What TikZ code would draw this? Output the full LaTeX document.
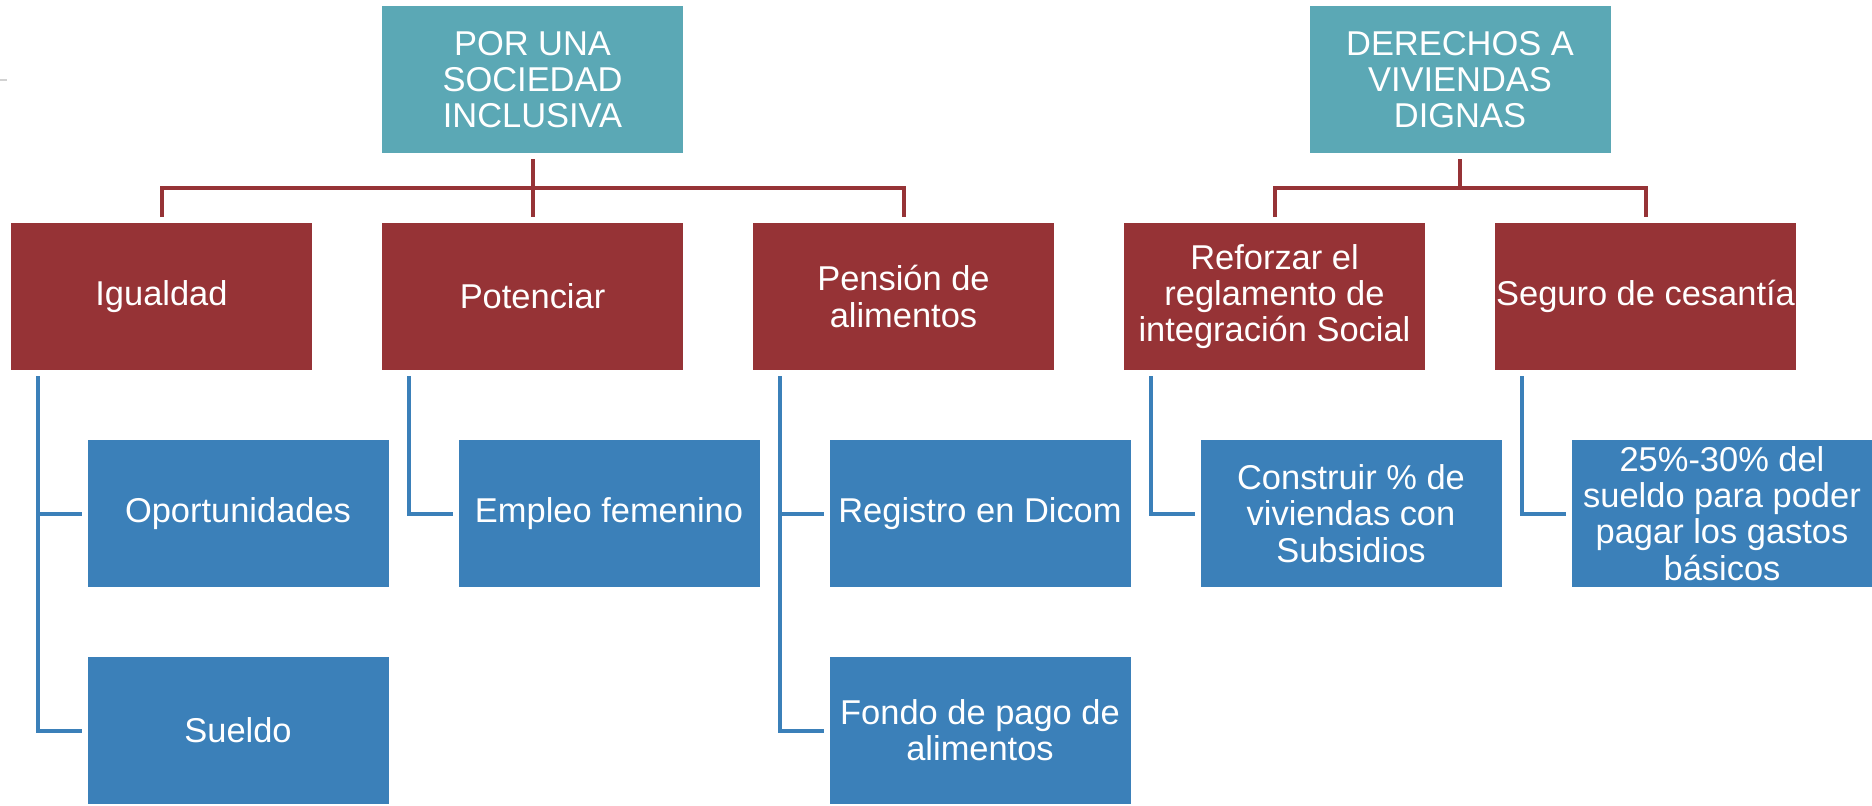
\documentclass[tikz,border=0pt]{standalone}
\usepackage{fontspec}
\setmainfont{Liberation Sans}
\usetikzlibrary{positioning}
\definecolor{tealbox}{HTML}{5BA8B5}
\definecolor{redbox}{HTML}{963336}
\definecolor{bluebox}{HTML}{3B80B9}

\begin{document}
\begin{tikzpicture}[node distance=1.4cm,line width=0.08cm]
\tikzstyle{every node}=[text=white,align=center,inner sep=0pt,outer sep=0pt,
    minimum width=6.02cm,minimum height=2.94cm,
    font=\fontsize{19.6}{20.6}\selectfont]
\tikzstyle{topbox}=[fill=tealbox]
\tikzstyle{midbox}=[fill=redbox]
\tikzstyle{leafbox}=[fill=bluebox]
\tikzstyle{redlink}=[draw=redbox,shorten <=0.12cm,shorten >=0.12cm]
\tikzstyle{bluelink}=[draw=bluebox,shorten <=0.12cm,shorten >=0.12cm]

\useasboundingbox (0,0) rectangle (37.44,-16.10);
\draw[gray!35,line width=0.04cm] (0,-1.6) -- (0.14,-1.6);

% second row
\node [midbox] at (3.23,-5.93) (1) {Igualdad};
\node [midbox] [right=of 1] (2) {Potenciar};
\node [midbox] [right=of 2] (3) {Pensión de\\alimentos};
\node [midbox] [right=of 3] (4) {Reforzar el\\reglamento de\\integración Social};
\node [midbox] [right=of 4] (5) {Seguro de cesantía};

% heads
\node [topbox] [above=of 2] (0) {POR UNA\\SOCIEDAD\\INCLUSIVA};
\node [topbox] [above=of 4,xshift=3.71cm] (6) {DERECHOS A\\VIVIENDAS\\DIGNAS};

% leaves
\node [leafbox] [below=of 1,xshift=1.53cm] (7) {Oportunidades};
\node [leafbox] [below=of 7] (8) {Sueldo};
\node [leafbox] [below=of 2,xshift=1.53cm] (9) {Empleo femenino};
\node [leafbox] [below=of 3,xshift=1.53cm] (10) {Registro en Dicom};
\node [leafbox] [below=of 10] (11) {Fondo de pago de\\alimentos};
\node [leafbox] [below=of 4,xshift=1.53cm] (12) {Construir \% de\\viviendas con\\Subsidios};
\node [leafbox] [below=of 5,xshift=1.53cm] (13) {25\%-30\% del\\sueldo para poder\\pagar los gastos\\básicos};

\draw[redlink] (1.north) -- ++(0,0.7) -| (3.north);
\draw[redlink] (0) -- (2);
\draw[redlink] (4.north) -- ++(0,0.7) -| (5.north);
\draw[redlink,shorten >=0pt] (6.south) -- ++(0,-0.7);

\draw[bluelink] ([xshift=0.54cm]1.south west) |- (7);
\draw[bluelink] ([xshift=0.54cm]1.south west) |- (8);
\draw[bluelink] ([xshift=0.54cm]2.south west) |- (9);
\draw[bluelink] ([xshift=0.54cm]3.south west) |- (10);
\draw[bluelink] ([xshift=0.54cm]3.south west) |- (11);
\draw[bluelink] ([xshift=0.54cm]4.south west) |- (12);
\draw[bluelink] ([xshift=0.54cm]5.south west) |- (13);

\end{tikzpicture}
\end{document}
